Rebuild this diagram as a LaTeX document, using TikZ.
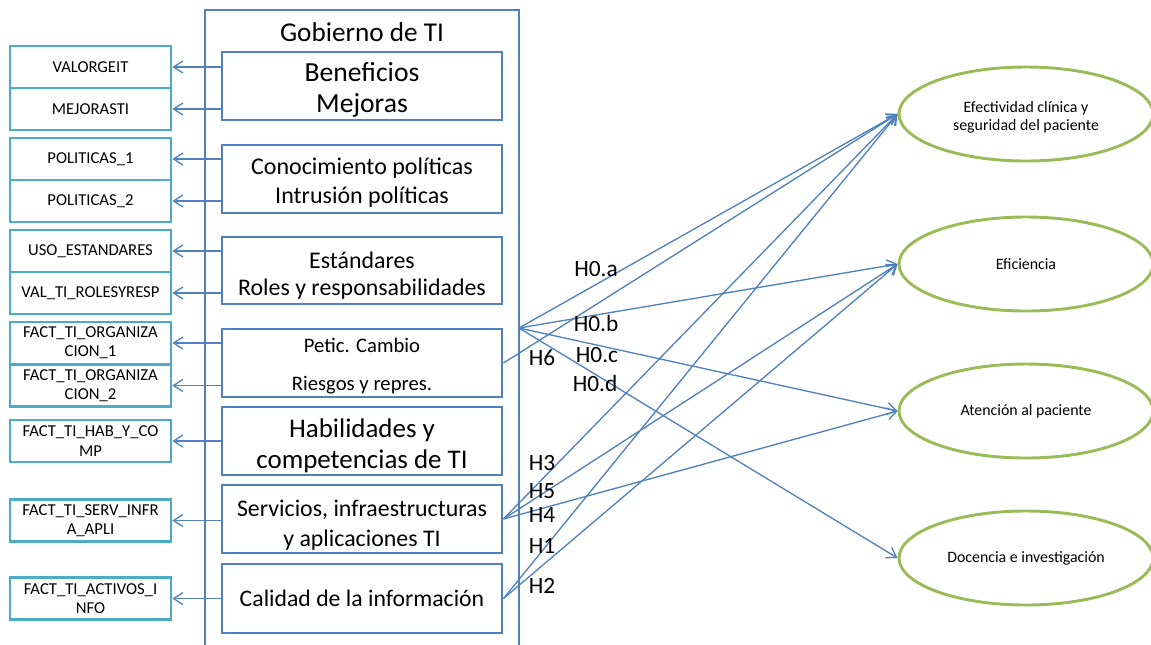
\documentclass[tikz,border=0pt]{standalone}
\usepackage{fontspec}
\setmainfont{Carlito}
\usetikzlibrary{arrows.meta,shapes.geometric}
\definecolor{bl}{RGB}{79,129,189}
\definecolor{tl}{RGB}{75,172,198}
\definecolor{gr}{RGB}{155,187,89}
\newcommand{\tstrut}[1]{\rule{0pt}{#1}}
\begin{document}
\begin{tikzpicture}[x=0.75pt,y=-0.75pt,
 outbox/.style={draw=bl,line width=2pt,minimum width=235.5pt,minimum height=480pt,inner sep=0pt},
 inbox/.style={draw=bl,line width=2.2pt,minimum width=210pt,minimum height=51pt,inner sep=1pt,align=center},
 lbox/.style={draw=tl,line width=2pt,minimum width=120.75pt,minimum height=31.5pt,inner sep=1pt,align=center,font=\fontsize{12.5}{14.5}\selectfont},
 oval/.style={draw=gr,line width=2.2pt,ellipse,minimum width=190.5pt,minimum height=70.5pt,inner sep=0pt,align=center,font=\fontsize{11.9}{13.5}\selectfont},
 arr/.style={draw=bl,line width=1pt,-{Straight Barb[length=7pt,width=9pt]}},
 hl/.style={font=\fontsize{17.5}{19}\selectfont,inner sep=0pt}]
\useasboundingbox (0,0) rectangle (1151,644);
% outer container
\node[outbox] (gob) at (362,330) {};
\node[font=\fontsize{20.4}{24}\selectfont,inner sep=0pt] (gobt) at (362,32) {Gobierno de TI};
% inner boxes
\node[inbox,font=\fontsize{20.7}{23.25}\selectfont] (b1) at (362,86) {\tstrut{20.1pt}Beneficios\\Mejoras};
\node[inbox,font=\fontsize{18}{21.75}\selectfont] (b2) at (362,179) {\tstrut{17.5pt}Conocimiento políticas\\Intrusión políticas};
\node[inbox,font=\fontsize{17.9}{20.25}\selectfont,minimum height=50.25pt] (b3) at (362,270.5) {\tstrut{20.4pt}Estándares\\Roles y responsabilidades};
\node[inbox,font=\fontsize{15.5}{28.5}\selectfont] (b4) at (362,363) {\tstrut{15.7pt}Petic. Cambio\\Riesgos y repres.};
\node[inbox,font=\fontsize{20.2}{23.25}\selectfont] (b5) at (362,441) {\tstrut{20.5pt}Habilidades y\\competencias de TI};
\node[inbox,font=\fontsize{17.9}{22.5}\selectfont] (b6) at (362,519) {\tstrut{21.9pt}Servicios, infraestructuras\\y aplicaciones TI};
\node[inbox,font=\fontsize{17.8}{20}\selectfont,minimum height=51.75pt] (b7) at (362,598.5) {Calidad de la información};
% left boxes
\node[lbox] (l1) at (90.5,67) {VALORGEIT};
\node[lbox] (l2) at (90.5,109) {MEJORASTI};
\node[lbox] (l3) at (90.5,159) {POLITICAS\_1};
\node[lbox] (l4) at (90.5,201) {POLITICAS\_2};
\node[lbox] (l5) at (90.5,251) {USO\_ESTANDARES};
\node[lbox] (l6) at (90.5,293) {VAL\_TI\_ROLESYRESP};
\node[lbox] (l7) at (90.5,343) {FACT\_TI\_ORGANIZA\\CION\_1};
\node[lbox] (l8) at (90.5,385.5) {FACT\_TI\_ORGANIZA\\CION\_2};
\node[lbox] (l9) at (90.5,441) {FACT\_TI\_HAB\_Y\_CO\\MP};
\node[lbox] (l10) at (90.5,520.5) {FACT\_TI\_SERV\_INFR\\A\_APLI};
\node[lbox] (l11) at (90.5,598.5) {FACT\_TI\_ACTIVOS\_I\\NFO};
% left arrows
\draw[arr] (b1.west |- l1) -- (l1);
\draw[arr] (b1.west |- l2) -- (l2);
\draw[arr] (b2.west |- l3) -- (l3);
\draw[arr] (b2.west |- l4) -- (l4);
\draw[arr] (b3.west |- l5) -- (l5);
\draw[arr] (b3.west |- l6) -- (l6);
\draw[arr] (b4.west |- l7) -- (l7);
\draw[arr] (b4.west |- l8) -- (l8);
\draw[arr] (b5.west |- l9) -- (l9);
\draw[arr] (b6.west |- l10) -- (l10);
\draw[arr] (b7.west |- l11) -- (l11);
% ellipses
\node[oval] (e1) at (1026,114) {\tstrut{13.1pt}Efectividad clínica y\\seguridad del paciente};
\node[oval] (e2) at (1026,264) {Eficiencia};
\node[oval] (e3) at (1026,411) {Atención al paciente};
\node[oval] (e4) at (1026,558) {Docencia e investigación};
% right arrows
\coordinate (h0) at (519,328);
\draw[arr] (h0) -- (e1.west);
\draw[arr] (h0) -- (e2.west);
\draw[arr] (h0) -- (e3.west);
\draw[arr] (h0) -- (e4.west);
\draw[arr] (b4.east) -- (e1.west);
\draw[arr] (b6.east) -- (e1.west);
\draw[arr] (b6.east) -- (e2.west);
\draw[arr] (b6.east) -- (e3.west);
\draw[arr] (b7.east) -- (e1.west);
\draw[arr] (b7.east) -- (e2.west);
% labels
\node[hl] (la) at (596,269) {H0.a};
\node[hl] (lb) at (596,323) {H0.b};
\node[hl] (lc) at (597,355) {H0.c};
\node[hl] (ld) at (595,383) {H0.d};
\node[hl] (l6h) at (542,358) {H6};
\node[hl] (l3h) at (542,463) {H3};
\node[hl] (l5h) at (542,491) {H5};
\node[hl] (l4h) at (542,514.5) {H4};
\node[hl] (l1h) at (542,546) {H1};
\node[hl] (l2h) at (542,586) {H2};
\end{tikzpicture}
\end{document}
